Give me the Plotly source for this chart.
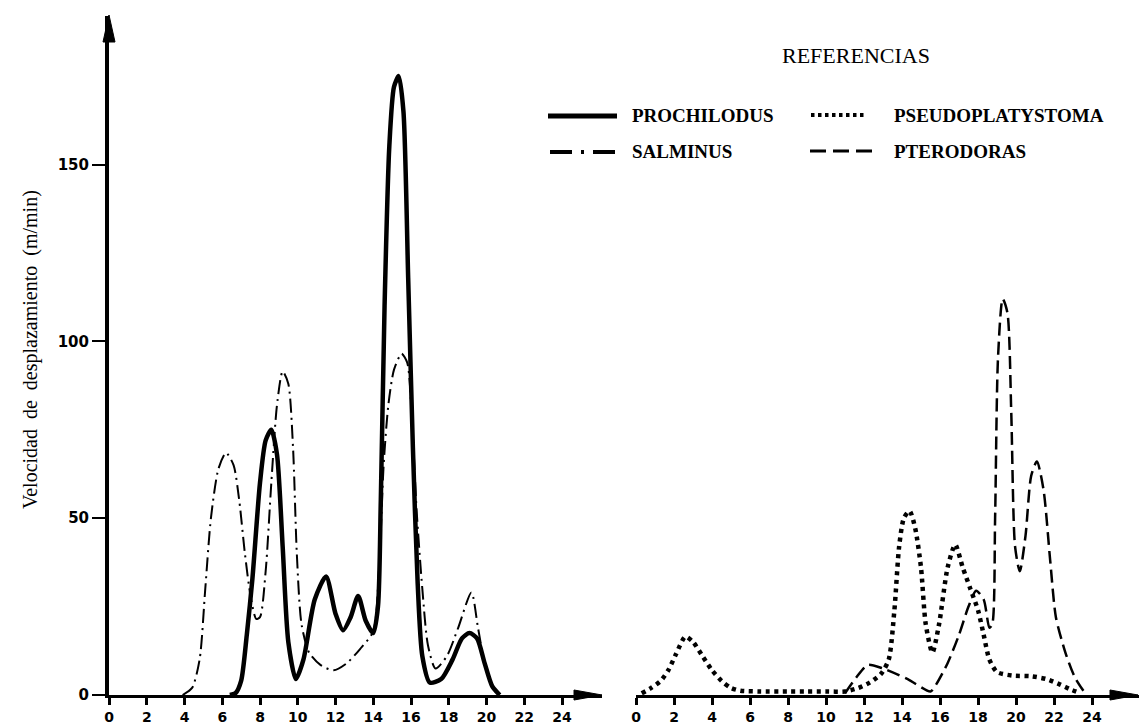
import plotly.graph_objects as go

# ---------------- data ----------------
hours_ticks = list(range(0, 25, 2))
hour_labels = [str(h) for h in hours_ticks]
speed_ticks = [0, 50, 100, 150]
speed_labels = ["0", "50", "100", "150"]

prochilodus_x = [6.4, 6.7, 7.0, 7.3, 7.6, 8.0, 8.3, 8.6, 8.9, 9.2, 9.5, 9.9, 10.3, 10.9, 11.5,
                 12.0, 12.4, 12.8, 13.2, 13.6, 14.0, 14.25, 14.4, 14.6, 14.85, 15.1, 15.35, 15.6,
                 15.85, 16.1, 16.35, 16.6, 17.0, 17.6, 18.2, 18.7, 19.1, 19.5, 19.9, 20.3, 20.7]
prochilodus_y = [0, 0.5, 4, 17, 33, 60, 72, 75, 68, 42, 15, 4.5, 10, 27, 33.5,
                 23, 18.3, 22, 28, 21, 17.5, 25, 55, 110, 155, 172, 175, 165,
                 118, 70, 32, 11, 3.5, 4.5, 10, 16, 17.5, 16, 9, 2.5, 0]

salminus_x = [3.9, 4.4, 4.8, 5.1, 5.4, 5.8, 6.2, 6.6, 6.9, 7.2, 7.5, 7.8, 8.0, 8.3, 8.6, 8.9,
              9.2, 9.5, 9.75, 9.95, 10.2, 10.6, 11.2, 11.9, 12.6, 13.3, 14.0, 14.3, 14.55, 14.8,
              15.1, 15.5, 15.8, 16.05, 16.3, 16.6, 16.9, 17.3, 17.9, 18.5, 19.2, 19.55, 19.9,
              20.3, 20.6]
salminus_y = [0, 2, 10, 30, 50, 64, 68.5, 65, 55, 40, 28, 21.5, 22, 35, 60, 82,
              91.5, 88, 70, 40, 20, 12, 8.5, 7, 9, 13, 18, 35, 65, 82,
              92, 96.5, 94, 78, 52, 30, 14, 7.5, 11, 19, 29, 19, 9,
              2.5, 0]

pseudo_x = [0.3, 0.8, 1.3, 1.7, 2.1, 2.6, 3.0, 3.5, 4.0, 4.5, 5.0, 5.5, 6.5, 8.0, 9.0, 10.0,
            11.0, 11.7, 12.3, 12.9, 13.3, 13.6, 13.85, 14.1, 14.4, 14.7, 15.0, 15.25, 15.6,
            15.95, 16.4, 16.8, 17.2, 17.6, 18.0, 18.3, 18.6, 19.0, 19.8, 20.8, 21.6, 22.3,
            22.9, 23.4]
pseudo_y = [0.5, 2, 4, 7, 11.5, 16.5, 15, 11, 7, 4, 2, 1.2, 1, 1, 1, 1,
            1, 2, 3.5, 6, 10, 24, 42, 50, 52, 47, 36, 20, 12,
            20, 36, 42.5, 36, 30, 24, 17, 10, 6.5, 5.5, 5.3, 4.5, 3,
            1.5, 0.5]

ptero_x = [11.0, 11.6, 12.2, 13.0, 14.3, 15.5, 15.8, 16.4, 17.0, 17.5, 17.9, 18.3, 18.6, 18.75,
           18.9, 19.05, 19.3, 19.55, 19.75, 19.95, 20.2, 20.5, 20.8, 21.1, 21.45, 21.8, 22.1,
           22.6, 23.1, 23.7]
ptero_y = [0.5, 5, 8.5, 7.5, 4.5, 1, 3, 9, 17, 25, 29.5, 27, 19, 20,
           50, 95, 112, 108, 80, 42, 35, 45, 62, 66, 58, 38, 22,
           12, 5, 0]

series_names = ["PROCHILODUS", "SALMINUS", "PSEUDOPLATYSTOMA", "PTERODORAS"]

# ---------------- geometry / style ----------------
W, H = 1139, 727
def px_x(p):
    return p / W
def px_y(p):
    return 1 - p / H

Y_MAX = 192
L_X0, L_X1 = 109, 602
R_X0, R_X1 = 636, 1139
Y_BOT, Y_TOP = 695, 16
L_RANGE = (L_X1 - L_X0) / 18.875
R_RANGE = (R_X1 - R_X0) / 19.0

styles = {
    "PROCHILODUS": dict(color="black", width=4.5, dash="solid"),
    "SALMINUS": dict(color="black", width=2, dash="14px,5px,2px,5px"),
    "PSEUDOPLATYSTOMA": dict(color="black", width=4.5, dash="4px,4.5px"),
    "PTERODORAS": dict(color="black", width=2.5, dash="13px,6px"),
}

fig = go.Figure()
fig.add_trace(go.Scatter(x=prochilodus_x, y=prochilodus_y, mode="lines", name="PROCHILODUS",
                         line=dict(shape="spline", smoothing=0.7, **styles["PROCHILODUS"]),
                         xaxis="x", yaxis="y", showlegend=False))
fig.add_trace(go.Scatter(x=salminus_x, y=salminus_y, mode="lines", name="SALMINUS",
                         line=dict(shape="spline", smoothing=0.7, **styles["SALMINUS"]),
                         xaxis="x", yaxis="y", showlegend=False))
fig.add_trace(go.Scatter(x=pseudo_x, y=pseudo_y, mode="lines", name="PSEUDOPLATYSTOMA",
                         line=dict(shape="spline", smoothing=0.7, **styles["PSEUDOPLATYSTOMA"]),
                         xaxis="x2", yaxis="y2", showlegend=False))
fig.add_trace(go.Scatter(x=ptero_x, y=ptero_y, mode="lines", name="PTERODORAS",
                         line=dict(shape="spline", smoothing=0.7, **styles["PTERODORAS"]),
                         xaxis="x2", yaxis="y2", showlegend=False))

xtickfont = dict(family="DejaVu Sans", size=14, color="black", weight="bold")
ytickfont = dict(family="DejaVu Sans", size=15, color="black", weight="bold")
ydom = [px_y(Y_BOT), px_y(Y_TOP)]

common_x = dict(showgrid=False, zeroline=False, showline=True, linecolor="black", linewidth=3,
                ticks="outside", ticklen=7, tickwidth=2.5, tickcolor="black",
                tickvals=hours_ticks, ticktext=hour_labels, tickfont=xtickfont,
                fixedrange=True, automargin=False)

fig.update_layout(
    width=W, height=H, margin=dict(l=0, r=0, t=0, b=0),
    paper_bgcolor="white", plot_bgcolor="white",
    xaxis=dict(domain=[px_x(L_X0), px_x(L_X1)], range=[0, L_RANGE], anchor="y", **common_x),
    yaxis=dict(domain=ydom, range=[0, Y_MAX], anchor="x", showgrid=False, zeroline=False,
               showline=True, linecolor="black", linewidth=4, ticks="outside", ticklen=13,
               tickwidth=2, tickcolor="black", tickvals=speed_ticks, ticktext=speed_labels,
               tickfont=ytickfont, fixedrange=True, automargin=False),
    xaxis2=dict(domain=[px_x(R_X0), px_x(R_X1)], range=[0, R_RANGE], anchor="y2", **common_x),
    yaxis2=dict(domain=ydom, range=[0, Y_MAX], anchor="x2", visible=False, fixedrange=True),
    showlegend=False,
)

shapes = []
# arrow heads (axis decorations)
for tip in (L_X1, R_X1 - 1):
    shapes.append(dict(type="path", xref="paper", yref="paper", xsizemode="pixel", ysizemode="pixel",
                       xanchor=px_x(tip), yanchor=px_y(Y_BOT), path="M-28,-5 L0,0 L-28,5 Z",
                       fillcolor="black", line=dict(color="black", width=1)))
shapes.append(dict(type="path", xref="paper", yref="paper", xsizemode="pixel", ysizemode="pixel",
                   xanchor=px_x(L_X0), yanchor=px_y(Y_TOP - 1), path="M-6,-27 L0,0 L6,-27 Z",
                   fillcolor="black", line=dict(color="black", width=1)))

# custom legend
legend_items = [
    ("PROCHILODUS", 548, 617, 116, dict(color="black", width=5, dash="solid")),
    ("SALMINUS", 550, 617, 152, dict(color="black", width=4, dash="22px,9px,3px,9px")),
    ("PSEUDOPLATYSTOMA", 811, 866, 115, dict(color="black", width=4, dash="3.5px,3.5px")),
    ("PTERODORAS", 810, 872, 151, dict(color="black", width=3, dash="16px,7px")),
]
annotations = []
for name, x0, x1, yy, ln in legend_items:
    shapes.append(dict(type="line", xref="paper", yref="paper", x0=px_x(x0), x1=px_x(x1),
                       y0=px_y(yy), y1=px_y(yy), line=ln))
    tx = 630 if x0 < 700 else 892
    annotations.append(dict(text=name, xref="paper", yref="paper", x=px_x(tx), y=px_y(yy),
                            xanchor="left", yanchor="middle", showarrow=False,
                            font=dict(family="Liberation Serif", size=19, color="black", weight="bold")))

annotations.append(dict(text="REFERENCIAS", xref="paper", yref="paper", x=px_x(856), y=px_y(55),
                        xanchor="center", yanchor="middle", showarrow=False,
                        font=dict(family="Liberation Serif", size=22, color="black")))
annotations.append(dict(text="Velocidad  de  desplazamiento  (m/min)", xref="paper", yref="paper",
                        x=px_x(30), y=px_y(350), xanchor="center", yanchor="middle",
                        textangle=-90, showarrow=False,
                        font=dict(family="Liberation Serif", size=20, color="black")))

fig.update_layout(shapes=shapes, annotations=annotations)

fig.write_html("out.html", config={"displayModeBar": False},
               post_script="document.body.style.margin='0';document.body.style.overflow='hidden';")
